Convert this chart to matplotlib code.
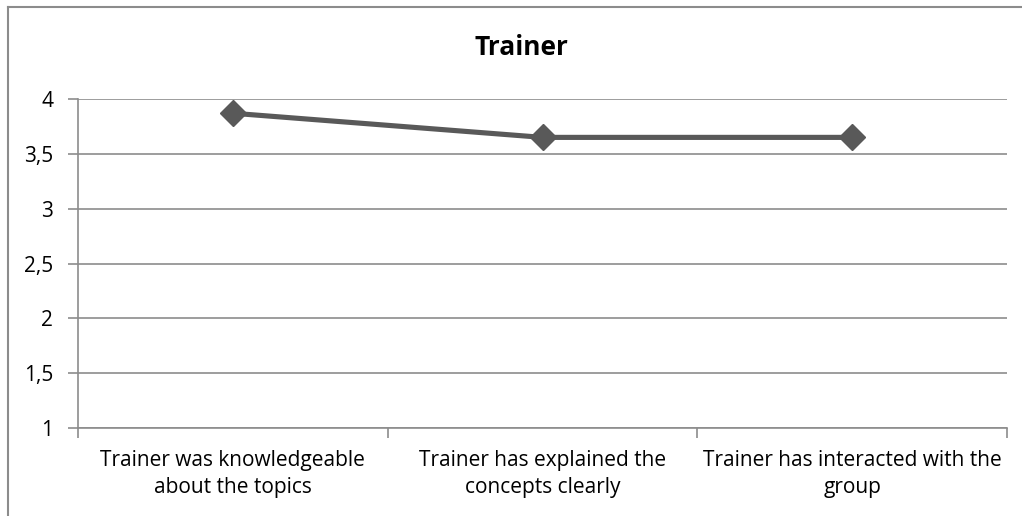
import matplotlib.pyplot as plt
from matplotlib.lines import Line2D

# DATA #
categories = ["Trainer was knowledgeable\nabout the topics",
              "Trainer has explained the\nconcepts clearly",
              "Trainer has interacted with the\ngroup"]
scores = [3.87, 3.65, 3.65]
y_ticks = [1, 1.5, 2, 2.5, 3, 3.5, 4]
y_tick_labels = ["1", "1,5", "2", "2,5", "3", "3,5", "4"]

plt.rcParams['font.family'] = ['Open Sans', 'DejaVu Sans']
grid_gray = '#8c8c8c'
line_gray = '#595959'

# PLOT #
fig = plt.figure(figsize=(10.22, 5.16), dpi=100)
ax = fig.add_axes([78/1022, 1-428/516, (1007-78)/1022, (428-99)/516])

x = list(range(len(categories)))
ax.plot(x, scores, color=line_gray, linewidth=3.7, marker='D', markersize=13,
        solid_capstyle='butt', zorder=3)

ax.set_xlim(-0.5, len(categories)-0.5)
ax.set_ylim(1, 4)
ax.set_yticks(y_ticks)
ax.set_yticklabels(y_tick_labels, fontsize=15)
ax.yaxis.grid(True, color=grid_gray, linewidth=1.2)
ax.set_axisbelow(True)

# category labels centred, ticks on boundaries
ax.set_xticks(x)
ax.set_xticklabels(categories, fontsize=15, linespacing=1.36)
ax.tick_params(axis='x', length=0, pad=16)
ax.set_xticks([i-0.5 for i in range(len(categories)+1)], minor=True)
ax.tick_params(axis='x', which='minor', length=7, color=grid_gray, width=1.2)
ax.tick_params(axis='y', length=7, color=grid_gray, width=1.2, pad=11)

for s in ['top', 'right']:
    ax.spines[s].set_visible(False)
ax.spines['left'].set_color(grid_gray)
ax.spines['bottom'].set_color(grid_gray)
ax.spines['left'].set_linewidth(1.2)
ax.spines['bottom'].set_linewidth(1.2)

fig.text(521/1022, 1-48/516, "Trainer", fontsize=19, fontweight='bold',
         ha='center', va='center')

# outer chart border (only top and left visible)
fig.add_artist(Line2D([8/1022, 8/1022], [0, 1-7/516], color=grid_gray, linewidth=1.5, transform=fig.transFigure))
fig.add_artist(Line2D([8/1022, 1021/1022], [1-7/516, 1-7/516], color=grid_gray, linewidth=1.5, transform=fig.transFigure))

fig.savefig("out.png", dpi=100)
